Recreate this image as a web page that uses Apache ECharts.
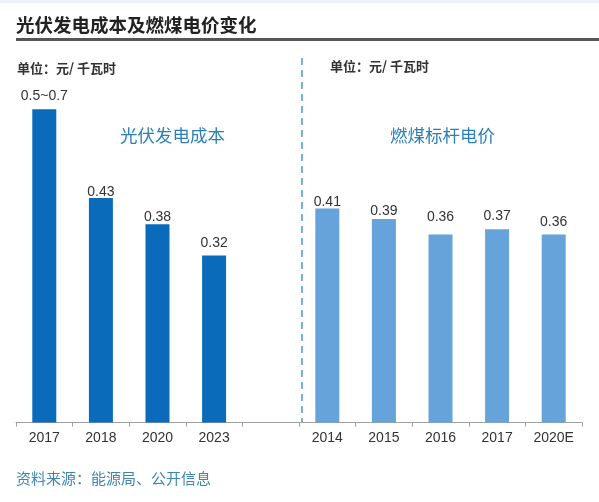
<!DOCTYPE html>
<html><head><meta charset="utf-8">
<script src="https://cdn.jsdelivr.net/npm/echarts@6/dist/echarts.min.js"></script>
<style>html,body{margin:0;padding:0;background:#fff}#c{width:599px;height:502px}</style>
</head><body><div id="c"></div>
<script>
const categories = ['2017','2018','2020','2023','','2014','2015','2016','2017','2020E'];
const solarValues = [0.6, 0.43, 0.38, 0.32, '-', '-', '-', '-', '-', '-'];
const solarLabels = ['0.5~0.7','0.43','0.38','0.32','','','','','',''];
const coalValues = ['-', '-', '-', '-', '-', 0.41, 0.39, 0.36, 0.37, 0.36];
const coalLabels = ['','','','','','0.41','0.39','0.36','0.37','0.36'];
const labelDist = [6, -1, 0, 5, 0, -1, 1, 10, 6, 5];

const font = '"Noto Sans CJK SC", "Noto Sans", sans-serif';
const numFont = '"Liberation Sans", Arial, sans-serif';
const chart = echarts.init(document.getElementById('c'));

function mk(vals, labels){
  return vals.map((v,i)=> v==='-' ? '-' : ({
    value: v,
    label: {show:true, position:'top', distance: labelDist[i], formatter: labels[i]}
  }));
}

chart.setOption({
  animation:false,
  grid:{left:16, right:17, top:57.1, bottom:79.5},
  xAxis:{type:'category', data:categories,
    axisLine:{lineStyle:{color:'#a0a0a0', width:1}},
    axisTick:{show:true, interval:0, length:4, lineStyle:{color:'#a0a0a0'}},
    axisLabel:{interval:0, color:'#333', fontSize:14, fontFamily:numFont, margin:9}},
  yAxis:{type:'value', min:0, max:0.7, show:false, splitLine:{show:false}},
  series:[
    {type:'bar', stack:'s', barWidth:24, data:mk(solarValues, solarLabels),
     itemStyle:{color:'#0a6bba'},
     label:{color:'#333', fontSize:14, fontFamily:numFont}},
    {type:'bar', stack:'s', barWidth:24, data:mk(coalValues, coalLabels),
     itemStyle:{color:'#66a3da'},
     label:{color:'#333', fontSize:14, fontFamily:numFont}}
  ],
  graphic:[
    {type:'rect', shape:{x:0, y:0, width:599, height:3}, style:{fill:'#eef2f6'}},
    {type:'text', left:16, top:16, style:{text:'光伏发电成本及燃煤电价变化', fontSize:18.5, fontWeight:'bold', fill:'#222', fontFamily:font}},
    {type:'rect', shape:{x:16, y:38, width:583, height:3}, style:{fill:'#555'}},
    {type:'text', left:17, top:62, style:{text:'单位：元/ 千瓦时', fontSize:13, fontWeight:'bold', fill:'#333', fontFamily:font}},
    {type:'text', left:330, top:60, style:{text:'单位：元/ 千瓦时', fontSize:13, fontWeight:'bold', fill:'#333', fontFamily:font}},
    {type:'text', left:120, top:127, style:{text:'光伏发电成本', fontSize:17.5, fill:'#2e7fb9', fontFamily:font}},
    {type:'text', left:390, top:127, style:{text:'燃煤标杆电价', fontSize:17.5, fill:'#2e7fb9', fontFamily:font}},
    {type:'line', shape:{x1:302, y1:58, x2:302, y2:422}, style:{stroke:'#4f97c6', lineWidth:1.5, lineDash:[7,5]}},
    {type:'text', left:16, top:471, style:{text:'资料来源：能源局、公开信息', fontSize:15, fill:'#3d86b6', fontFamily:font}}
  ]
});
</script></body></html>
